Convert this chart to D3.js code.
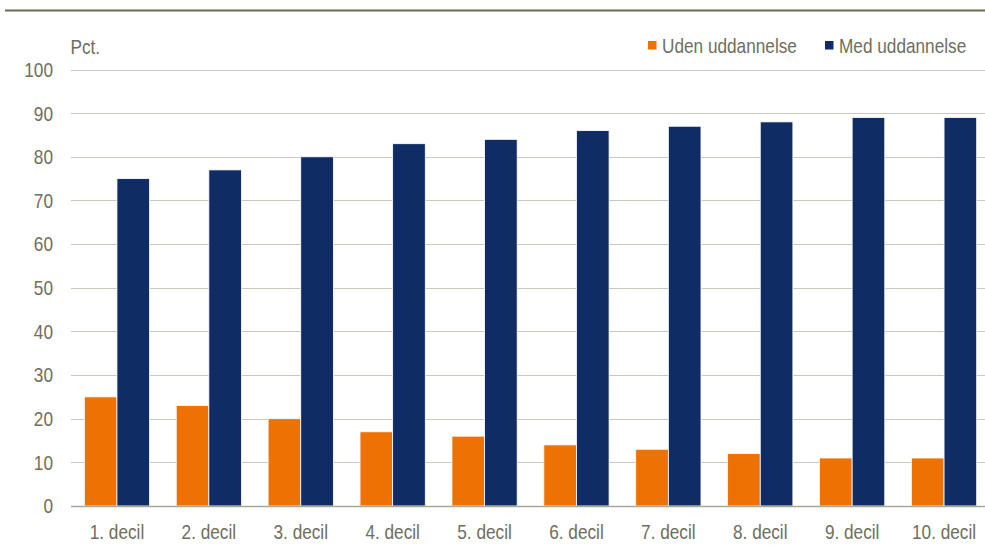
<!DOCTYPE html>
<html><head><meta charset="utf-8">
<script src="https://cdn.jsdelivr.net/npm/d3@7"></script>
<style>
body{margin:0;background:#fff;}
text{font-family:"Liberation Sans",Arial,sans-serif;fill:#6e6e5e;font-size:21px;}
</style></head>
<body><svg id="c" width="985" height="549"></svg>
<script>
const categories = ["1. decil","2. decil","3. decil","4. decil","5. decil","6. decil","7. decil","8. decil","9. decil","10. decil"];
const seriesNames = ["Uden uddannelse","Med uddannelse"];
const udenValues = [25,23,20,17,16,14,13,12,11,11];
const medValues = [75,77,80,83,84,86,87,88,89,89];
const yTicks = [0,10,20,30,40,50,60,70,80,90,100];
const colors = ["#ee7203","#102c64"];

const svg = d3.select("#c");
const pLeft = 71, pRight = 990, pTop = 69.5, pBottom = 506;
const x = d3.scaleBand().domain(categories).range([pLeft,pRight]).paddingInner(0.29).paddingOuter(0.145);
const x1 = d3.scaleBand().domain(seriesNames).range([0,x.bandwidth()]);
const y = d3.scaleLinear().domain([0,100]).range([pBottom,pTop]);
const SX = 0.82;

function narrowText(parent, tx, ty, str, anchor, dy){
  const t = parent.append("g").attr("transform",`translate(${tx},${ty})`)
    .append("text").attr("transform",`scale(${SX},1)`).attr("text-anchor",anchor||"start").text(str);
  if(dy) t.attr("dy",dy);
  return t;
}

// top rule
svg.append("line").attr("x1",5).attr("x2",985).attr("y1",10.5).attr("y2",10.5)
  .attr("stroke","#6b6b55").attr("stroke-width",2);

// gridlines
svg.append("g").selectAll("line").data(yTicks.filter(d=>d>0)).join("line")
  .attr("x1",pLeft).attr("x2",pRight).attr("y1",d=>Math.round(y(d))+0.5).attr("y2",d=>Math.round(y(d))+0.5)
  .attr("stroke","#c8c8bc").attr("stroke-width",1.2);

// y labels
const yl = svg.append("g");
yTicks.forEach(d=>narrowText(yl, 53, y(d), d, "end", "0.35em"));

narrowText(svg, 70.5, 54, "Pct.");

const data = categories.map((c,i)=>({cat:c, vals:[udenValues[i],medValues[i]]}));
const g = svg.append("g").selectAll("g").data(data).join("g")
  .attr("transform",d=>`translate(${x(d.cat)},0)`);
g.selectAll("rect").data(d=>d.vals.map((v,j)=>({v,j}))).join("rect")
  .attr("x",d=>x1(seriesNames[d.j])).attr("width",x1.bandwidth())
  .attr("y",d=>y(d.v)).attr("height",d=>pBottom-y(d.v))
  .attr("fill",d=>colors[d.j]).attr("stroke","#fff").attr("stroke-width",0.8);

// baseline
svg.append("line").attr("x1",pLeft).attr("x2",pRight).attr("y1",pBottom+0.5).attr("y2",pBottom+0.5)
  .attr("stroke","#a8a898").attr("stroke-width",1.5);

// x labels
const xl = svg.append("g");
categories.forEach(c=>narrowText(xl, x(c)+x.bandwidth()/2, 539, c, "middle"));

// legend
const legX = [648,825];
seriesNames.forEach((n,i)=>{
  svg.append("rect").attr("x",legX[i]).attr("y",41).attr("width",8.5).attr("height",8.5).attr("fill",colors[i]);
  narrowText(svg, legX[i]+14, 52.5, n);
});
</script></body></html>
